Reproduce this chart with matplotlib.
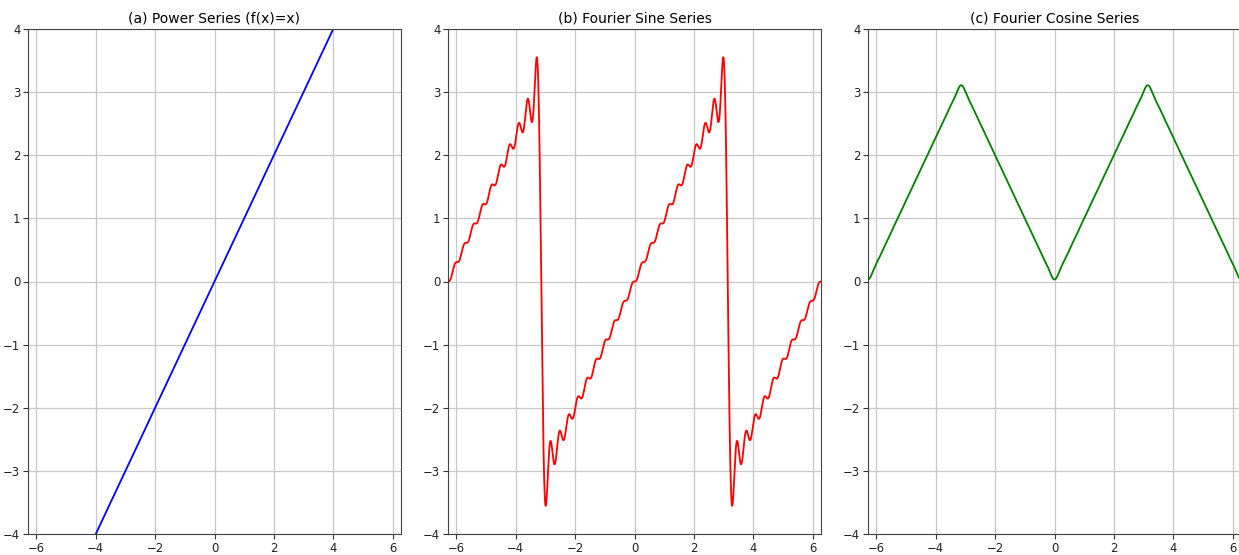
import numpy as np
import matplotlib
matplotlib.use("Agg")
import matplotlib.pyplot as plt

# Series settings
n_terms = 20
x_range = (-2 * np.pi, 2 * np.pi)
y_range = (-4, 4)
titles = ["(a) Power Series (f(x)=x)", "(b) Fourier Sine Series", "(c) Fourier Cosine Series"]
colors = ["blue", "red", "green"]

x = np.linspace(x_range[0], x_range[1], 4000)

# (a) power series of f(x) = x is the function itself
power = x.copy()

# (b) Fourier sine series of f(x) = x on [-pi, pi]
n = np.arange(1, n_terms + 1)
sine = (2 * ((-1) ** (n + 1)) / n)[:, None] * np.sin(n[:, None] * x[None, :])
sine = sine.sum(axis=0)

# (c) Fourier cosine series of f(x) = |x| on [-pi, pi]
odd = n[n % 2 == 1]
cosine = np.pi / 2 - (4 / np.pi) * ((1 / odd ** 2)[:, None] * np.cos(odd[:, None] * x[None, :])).sum(axis=0)

series = [power, sine, cosine]

fig = plt.figure(figsize=(12.39, 5.55), dpi=100)
W, H = 1239, 555
lefts = [28, 448, 868]
for left, y, title, color in zip(lefts, series, titles, colors):
    ax = fig.add_axes([left / W, 21 / H, 373 / W, 505 / H])
    ax.plot(x, y, color=color, linewidth=1.3)
    ax.set_xlim(*x_range)
    ax.set_ylim(*y_range)
    ax.set_title(title, fontsize=10, pad=5)
    ax.tick_params(labelsize=8.4, colors="#333333", labelcolor="#222222", pad=2)
    for sp in ax.spines.values():
        sp.set_color("#444444")
    ax.grid(True, color="#c8c8c8", linewidth=0.9)

fig.savefig("out.png", dpi=100)
